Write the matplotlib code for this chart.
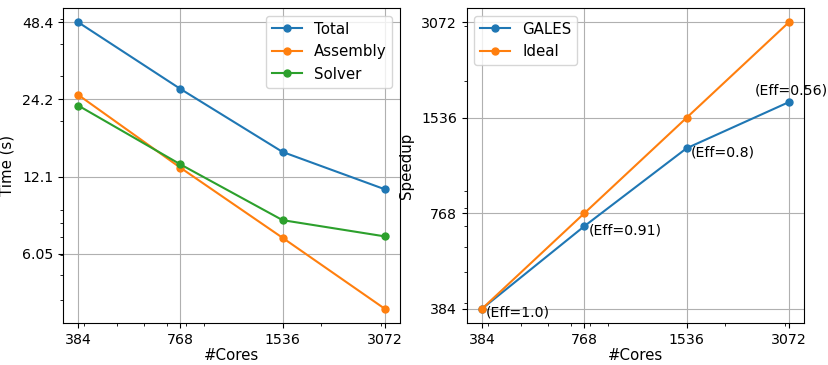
import matplotlib
matplotlib.use("Agg")
import matplotlib.pyplot as plt
from matplotlib.ticker import NullFormatter

plt.rcParams.update({"font.size": 11, "xtick.labelsize": 10.2, "ytick.labelsize": 10.2,
                     "legend.fontsize": 10.8, "axes.labelsize": 10.8})

cores = [384, 768, 1536, 3072]
total = [48.4, 26.6, 15.1, 10.8]
assembly = [25.2, 13.1, 6.98, 3.69]
solver = [22.9, 13.5, 8.18, 7.07]
time_ticks = [6.05, 12.1, 24.2, 48.4]
time_labels = ["6.05", "12.1", "24.2", "48.4"]

gales = [384, 699, 1231, 1721]
ideal = [384, 768, 1536, 3072]
eff_labels = ["(Eff=1.0)", "(Eff=0.91)", "(Eff=0.8)", "(Eff=0.56)"]

fig = plt.figure(figsize=(8.29, 3.65), dpi=100)
ax1 = fig.add_axes([0.076, 0.115, 0.4065, 0.863])
ax2 = fig.add_axes([0.563, 0.115, 0.407, 0.863])

ms = 5
ax1.plot(cores, total, "-o", ms=ms, label="Total")
ax1.plot(cores, assembly, "-o", ms=ms, label="Assembly")
ax1.plot(cores, solver, "-o", ms=ms, label="Solver")
ax1.set_xscale("log"); ax1.set_yscale("log")
ax1.set_xticks(cores); ax1.set_xticklabels([str(c) for c in cores])
ax1.set_yticks(time_ticks); ax1.set_yticklabels(time_labels)
ax1.xaxis.set_minor_formatter(NullFormatter())
ax1.yaxis.set_minor_formatter(NullFormatter())
ax1.set_xlabel("#Cores", labelpad=1)
ax1.set_ylabel("Time (s)", labelpad=5)
ax1.grid(True, which="major")
ax1.legend(loc="upper right")

ax2.plot(cores, gales, "-o", ms=ms, label="GALES")
ax2.plot(cores, ideal, "-o", ms=ms, label="Ideal")
ax2.set_xscale("log"); ax2.set_yscale("log")
ax2.set_xticks(cores); ax2.set_xticklabels([str(c) for c in cores])
ax2.set_yticks(ideal); ax2.set_yticklabels([str(c) for c in ideal])
ax2.xaxis.set_minor_formatter(NullFormatter())
ax2.yaxis.set_minor_formatter(NullFormatter())
ax2.set_xlabel("#Cores", labelpad=1)
ax2.set_ylabel("Speedup", labelpad=5)
ax2.grid(True, which="major")
ax2.legend(loc="upper left")

for i, (c, g, lab) in enumerate(zip(cores, gales, eff_labels)):
    if i == len(cores) - 1:
        ax2.annotate(lab, (c, g), xytext=(1.5, 3), textcoords="offset points",
                     ha="center", va="bottom", fontsize=10.2)
    else:
        ax2.annotate(lab, (c, g), xytext=(3, 2), textcoords="offset points",
                     ha="left", va="top", fontsize=10.2)

fig.savefig("out.png", dpi=100)
